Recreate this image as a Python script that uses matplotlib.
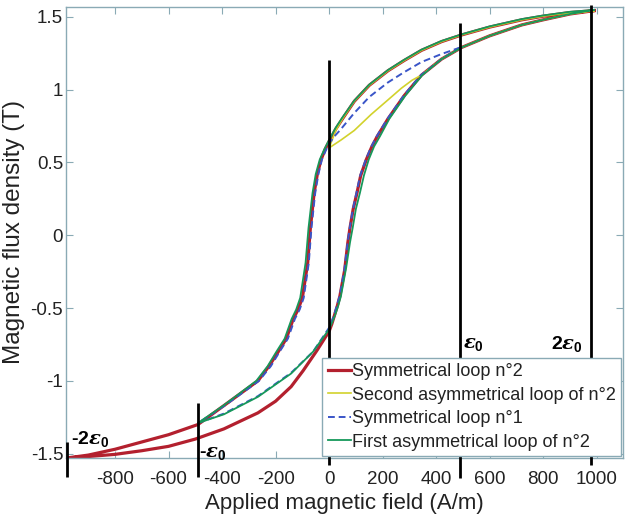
import matplotlib
matplotlib.use("Agg")
import matplotlib.pyplot as plt

plt.rcParams['font.family'] = ['Liberation Sans', 'DejaVu Sans']
plt.rcParams['axes.unicode_minus'] = False
plt.rcParams['mathtext.fontset'] = 'custom'
plt.rcParams['mathtext.bf'] = 'Liberation Sans:bold'
plt.rcParams['mathtext.it'] = 'DejaVu Serif:italic:bold'
plt.rcParams['mathtext.rm'] = 'DejaVu Serif:bold'

# ---------------- data ----------------
# Symmetrical loop n°2 (outer loop): descending branch then ascending branch
red_H = [990, 900, 800, 720, 600, 495, 420, 345, 280, 220, 150, 94, 50, 25, 0,
         -15, -30, -44, -56, -70, -80, -100, -116, -134, -160, -190, -225, -266, -393, -490,
         -600, -700, -800, -900, -980,
         -900, -800, -700, -600, -500, -393, -266, -200, -142, -97, -45, 0,
         10, 20, 30, 40, 58, 70, 78, 90, 104, 118, 139, 160, 180, 220, 281, 345, 420, 495,
         600, 720, 800, 900, 990]
red_B = [1.543, 1.53, 1.505, 1.48, 1.43, 1.376, 1.33, 1.27, 1.20, 1.13, 1.03, 0.92, 0.80, 0.73, 0.645,
         0.59, 0.52, 0.42, 0.29, 0.05, -0.19, -0.43, -0.51, -0.575, -0.71, -0.80, -0.90, -1.0, -1.17, -1.30,
         -1.37, -1.42, -1.47, -1.51, -1.53,
         -1.52, -1.505, -1.48, -1.45, -1.40, -1.33, -1.22, -1.14, -1.04, -0.93, -0.79, -0.66,
         -0.61, -0.55, -0.49, -0.42, -0.24, -0.05, 0.05, 0.18, 0.29, 0.41, 0.52, 0.61, 0.68, 0.80, 0.96, 1.10, 1.21, 1.29,
         1.37, 1.445, 1.48, 1.52, 1.543]

# Second asymmetrical loop of n°2 (2eps0 -> 0 -> 2eps0)
yel_H = [990, 900, 800, 720, 600, 495, 420, 345, 280, 220, 150, 94, 50, 25, 0,
         45, 94, 157, 220, 270, 310, 345, 420, 495, 600, 720, 800, 900, 990]
yel_B = [1.543, 1.53, 1.505, 1.48, 1.43, 1.376, 1.33, 1.27, 1.20, 1.13, 1.03, 0.92, 0.80, 0.72, 0.60,
         0.655, 0.72, 0.83, 0.93, 1.01, 1.065, 1.10, 1.21, 1.29, 1.37, 1.445, 1.48, 1.52, 1.543]

# Symmetrical loop n°1 (inner loop, +-eps0)
blu_H = [490, 420, 345, 280, 220, 150, 94, 40, 20, 0, -13, -27, -40, -52, -66, -76, -95, -110, -128, -154,
         -185, -218, -262, -390, -490,
         -393, -266, -142, -60, 0, 10, 20, 29, 39, 57, 69, 77, 89, 102, 116, 137, 158, 178, 218, 279, 343, 420, 490]
blu_B = [1.29, 1.245, 1.19, 1.12, 1.05, 0.95, 0.84, 0.72, 0.68, 0.63, 0.58, 0.52, 0.42, 0.29, 0.05, -0.19, -0.43, -0.51, -0.575, -0.71,
         -0.80, -0.90, -1.0, -1.17, -1.29,
         -1.225, -1.105, -0.945, -0.80, -0.635, -0.59, -0.54, -0.48, -0.42, -0.24, -0.05, 0.05, 0.18, 0.29, 0.41, 0.52, 0.61, 0.68, 0.80, 0.96, 1.10, 1.21, 1.29]

# First asymmetrical loop of n°2 (2eps0 -> -eps0 -> 2eps0)
grn_H = [990, 900, 800, 720, 600, 495, 420, 345, 280, 220, 150, 94, 50, 25, 0,
         -18, -35, -50, -62, -77, -88, -108, -123, -140, -166, -197, -230, -272, -395, -490,
         -393, -266, -142, -60, 0, 11, 22, 33, 44, 64, 78, 88, 100, 115, 130, 148, 168, 190, 225, 285, 348, 420, 495,
         600, 720, 800, 900, 990]
grn_B = [1.548, 1.535, 1.51, 1.485, 1.435, 1.38, 1.335, 1.275, 1.205, 1.135, 1.035, 0.925, 0.81, 0.74, 0.655,
         0.59, 0.52, 0.42, 0.29, 0.05, -0.19, -0.43, -0.51, -0.575, -0.71, -0.80, -0.90, -1.0, -1.17, -1.29,
         -1.23, -1.11, -0.95, -0.80, -0.645, -0.60, -0.55, -0.49, -0.42, -0.22, -0.05, 0.05, 0.18, 0.29, 0.41, 0.52, 0.61, 0.68, 0.80, 0.96, 1.10, 1.21, 1.29,
         1.37, 1.445, 1.48, 1.52, 1.548]

series_labels = ["Symmetrical loop n°2", "Second asymmetrical loop of n°2",
                 "Symmetrical loop n°1", "First asymmetrical loop of n°2"]

# vertical markers: x position, bottom, top
mark_H = [-980, -490, 0, 490, 980]
mark_lo = [-1.66, -1.66, -1.58, -1.67, -1.58]
mark_hi = [-1.42, -1.15, 1.205, 1.46, 1.58]
mark_text = [r'-2$\varepsilon_{\mathbf{0}}$', r'-$\varepsilon_{\mathbf{0}}$',
             None, r'$\varepsilon_{\mathbf{0}}$', r'2$\varepsilon_{\mathbf{0}}$']
text_H = [-966, -487, None, 500, 830]
text_B = [-1.40, -1.50, None, -0.75, -0.75]

x_ticks = [-800, -600, -400, -200, 0, 200, 400, 600, 800, 1000]
y_ticks = [-1.5, -1, -0.5, 0, 0.5, 1, 1.5]
y_ticklabels = ['-1.5', '-1', '-0.5', '0', '0.5', '1', '1.5']

# ---------------- figure ----------------
fig = plt.figure(figsize=(6.29, 5.26), dpi=100)
ax = fig.add_axes([66/629, 1-458/526, (623-66)/629, (458-7)/526])

ax.plot(red_H, red_B, color='#B3202E', lw=2.3, label=series_labels[0], zorder=2)
ax.plot(yel_H, yel_B, color='#D2D22C', lw=1.2, label=series_labels[1], zorder=2.1)
ax.plot(blu_H, blu_B, color='#3A55C8', lw=1.4, ls=(0, (3.5, 2)), label=series_labels[2], zorder=2.2)
ax.plot(grn_H, grn_B, color='#16985A', lw=1.3, label=series_labels[3], zorder=2.3)

for h, lo, hi in zip(mark_H, mark_lo, mark_hi):
    ax.plot([h, h], [lo, hi], color='black', lw=2.0, clip_on=False, zorder=3, solid_capstyle='butt')

for t, h, b in zip(mark_text, text_H, text_B):
    if t is None:
        continue
    ax.text(h, b, t, fontsize=14, fontweight='bold', ha='left', va='center', color='black', zorder=4)

ax.set_xlim(-983, 1098)
ax.set_ylim(-1.53, 1.568)
ax.set_xticks(x_ticks)
ax.set_xticklabels([str(v) for v in x_ticks])
ax.set_yticks(y_ticks)
ax.set_yticklabels(y_ticklabels)
ax.tick_params(direction='in', length=5, width=0.8, top=True, right=True,
               labelsize=13.5, colors='#8AAAB5', labelcolor='#222222')
ax.tick_params(axis='x', pad=9)
ax.tick_params(axis='y', pad=2)
for s in ax.spines.values():
    s.set_color('#8AAAB5')
    s.set_linewidth(1.0)

ax.set_xlabel('Applied magnetic field (A/m)', fontsize=16, color='#222222', labelpad=4)
ax.set_ylabel('Magnetic flux density (T)', fontsize=17.5, color='#222222')
ax.yaxis.set_label_coords(-0.073, 0.5)

leg = ax.legend(loc='lower right', fontsize=13, frameon=True, fancybox=False,
                borderaxespad=0.1, handlelength=1.3, handletextpad=0.05,
                labelspacing=0.36, borderpad=0.3, framealpha=1)
leg.get_frame().set_edgecolor('#8AAAB5')
leg.get_frame().set_linewidth(1.0)
leg.set_zorder(5)
for t in leg.get_texts():
    t.set_color('#222222')

fig.savefig('out.png', dpi=100, facecolor='white')
